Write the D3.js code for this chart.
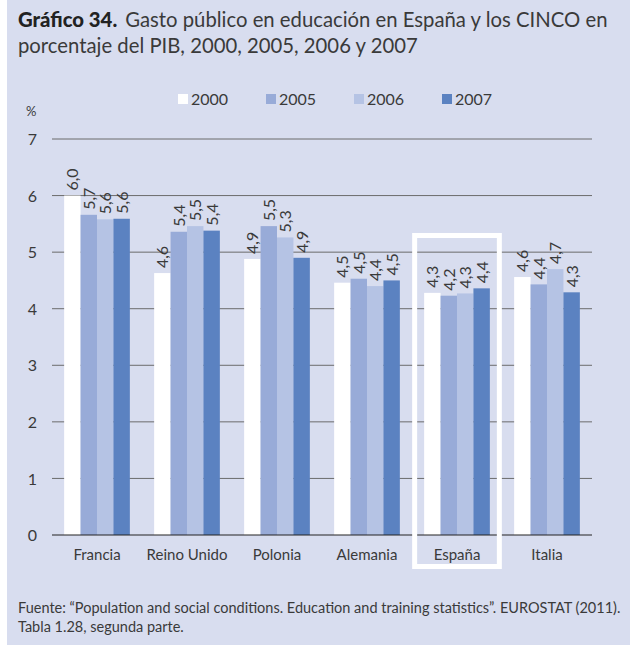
<!DOCTYPE html>
<html>
<head>
<meta charset="utf-8">
<script src="https://cdn.jsdelivr.net/npm/d3@7"></script>
<style>
  body { margin: 0; background: #fff; }
  svg text { font-family: Lato, "Open Sans", sans-serif; fill: #3a3a3a; }
</style>
</head>
<body>
<script>
// datos del gráfico
var paises = ["Francia", "Reino Unido", "Polonia", "Alemania", "España", "Italia"];
var anios = ["2000", "2005", "2006", "2007"];
var v2000 = [6.0, 4.63, 4.88, 4.46, 4.28, 4.56];
var v2005 = [5.66, 5.36, 5.46, 4.53, 4.23, 4.43];
var v2006 = [5.58, 5.46, 5.26, 4.40, 4.27, 4.70];
var v2007 = [5.59, 5.38, 4.90, 4.50, 4.36, 4.29];
var yTicks = [0, 1, 2, 3, 4, 5, 6, 7];
var colores = ["#ffffff", "#98abd8", "#b5c3e4", "#5b82c1"];

var series = [v2000, v2005, v2006, v2007];

var W = 630, H = 645;
var svg = d3.select("body").append("svg").attr("width", W).attr("height", H);

// fondo lavanda
svg.append("rect").attr("x", 7).attr("y", 0).attr("width", W - 7).attr("height", H).attr("fill", "#d8ddef");

// título
var t = svg.append("text").attr("x", 18).attr("y", 27).style("font-size", "20.3px");
t.append("tspan").style("font-weight", "900").style("fill", "#222").text("Gráfico 34.");
t.append("tspan").attr("dx", 8).text("Gasto público en educación en España y los CINCO en");
svg.append("text").attr("x", 18).attr("y", 53).style("font-size", "20.3px").text("porcentaje del PIB, 2000, 2005, 2006 y 2007");

// escalas
var x = d3.scaleBand().domain(paises).range([52, 592]).paddingInner(0.27).paddingOuter(0.135);
var xs = d3.scaleBand().domain(anios).range([0, x.bandwidth()]);
var y = d3.scaleLinear().domain([0, 7]).range([535, 139]);

// rejilla
svg.append("g").selectAll("line").data(yTicks.filter(function (d) { return d > 0; })).enter().append("line")
  .attr("x1", 52).attr("x2", 592)
  .attr("y1", function (d) { return y(d); }).attr("y2", function (d) { return y(d); })
  .attr("stroke", "#6b6b6b").attr("stroke-width", 1);

// eje y
var yAxis = d3.axisLeft(y).tickValues(yTicks).tickSize(0).tickPadding(0).tickFormat(d3.format("d"));
var gy = svg.append("g").attr("transform", "translate(37,0)").call(yAxis);
gy.select(".domain").remove();
gy.selectAll("text").style("font-size", "16px").attr("text-anchor", "end").attr("dy", "0.35em");
svg.append("text").attr("x", 26).attr("y", 116).style("font-size", "13px").text("%");

// barras
var grupos = svg.append("g").selectAll("g").data(paises).enter().append("g")
  .attr("transform", function (d) { return "translate(" + x(d) + ",0)"; });

var fmt = function (v) { return d3.format(".1f")(v).replace(".", ","); };

grupos.each(function (p, i) {
  var g = d3.select(this);
  var datos = anios.map(function (a, j) { return { anio: a, v: series[j][i], c: colores[j] }; });
  g.selectAll("rect").data(datos).enter().append("rect")
    .attr("x", function (d) { return xs(d.anio); })
    .attr("width", xs.bandwidth())
    .attr("y", function (d) { return y(d.v); })
    .attr("height", function (d) { return y(0) - y(d.v); })
    .attr("fill", function (d) { return d.c; });
  g.selectAll("text").data(datos).enter().append("text")
    .attr("transform", function (d) {
      return "translate(" + (xs(d.anio) + xs.bandwidth() / 2 + 6) + "," + (y(d.v) - 5) + ") rotate(-90)";
    })
    .style("font-size", "16px")
    .text(function (d) { return fmt(d.v); });
});

// eje x
svg.append("line").attr("x1", 52).attr("x2", 592).attr("y1", y(0)).attr("y2", y(0))
  .attr("stroke", "#222").attr("stroke-width", 1.2);
var xAxis = d3.axisBottom(x).tickSize(0).tickPadding(14);
var gx = svg.append("g").attr("transform", "translate(0," + y(0) + ")").call(xAxis);
gx.select(".domain").remove();
gx.selectAll("text").style("font-size", "15px");

// recuadro España
var bx = x("España");
svg.append("rect")
  .attr("x", bx - 9.5).attr("y", 235.5)
  .attr("width", x.bandwidth() + 19).attr("height", 331)
  .attr("fill", "none").attr("stroke", "#fff").attr("stroke-width", 5);

// leyenda
var ley = svg.append("g").selectAll("g").data(anios).enter().append("g")
  .attr("transform", function (d, i) { return "translate(" + (178 + i * 88) + ",99)"; });
ley.append("rect").attr("x", 0).attr("y", -5).attr("width", 10).attr("height", 10)
  .attr("fill", function (d, i) { return colores[i]; });
ley.append("text").attr("x", 13).attr("dy", "0.35em").style("font-size", "16px").text(function (d) { return d; });

// fuente
svg.append("text").attr("x", 18).attr("y", 613).style("font-size", "14.5px")
  .text("Fuente: “Population and social conditions. Education and training statistics”. EUROSTAT (2011).");
svg.append("text").attr("x", 18).attr("y", 632).style("font-size", "14.5px")
  .text("Tabla 1.28, segunda parte.");
</script>
</body>
</html>
